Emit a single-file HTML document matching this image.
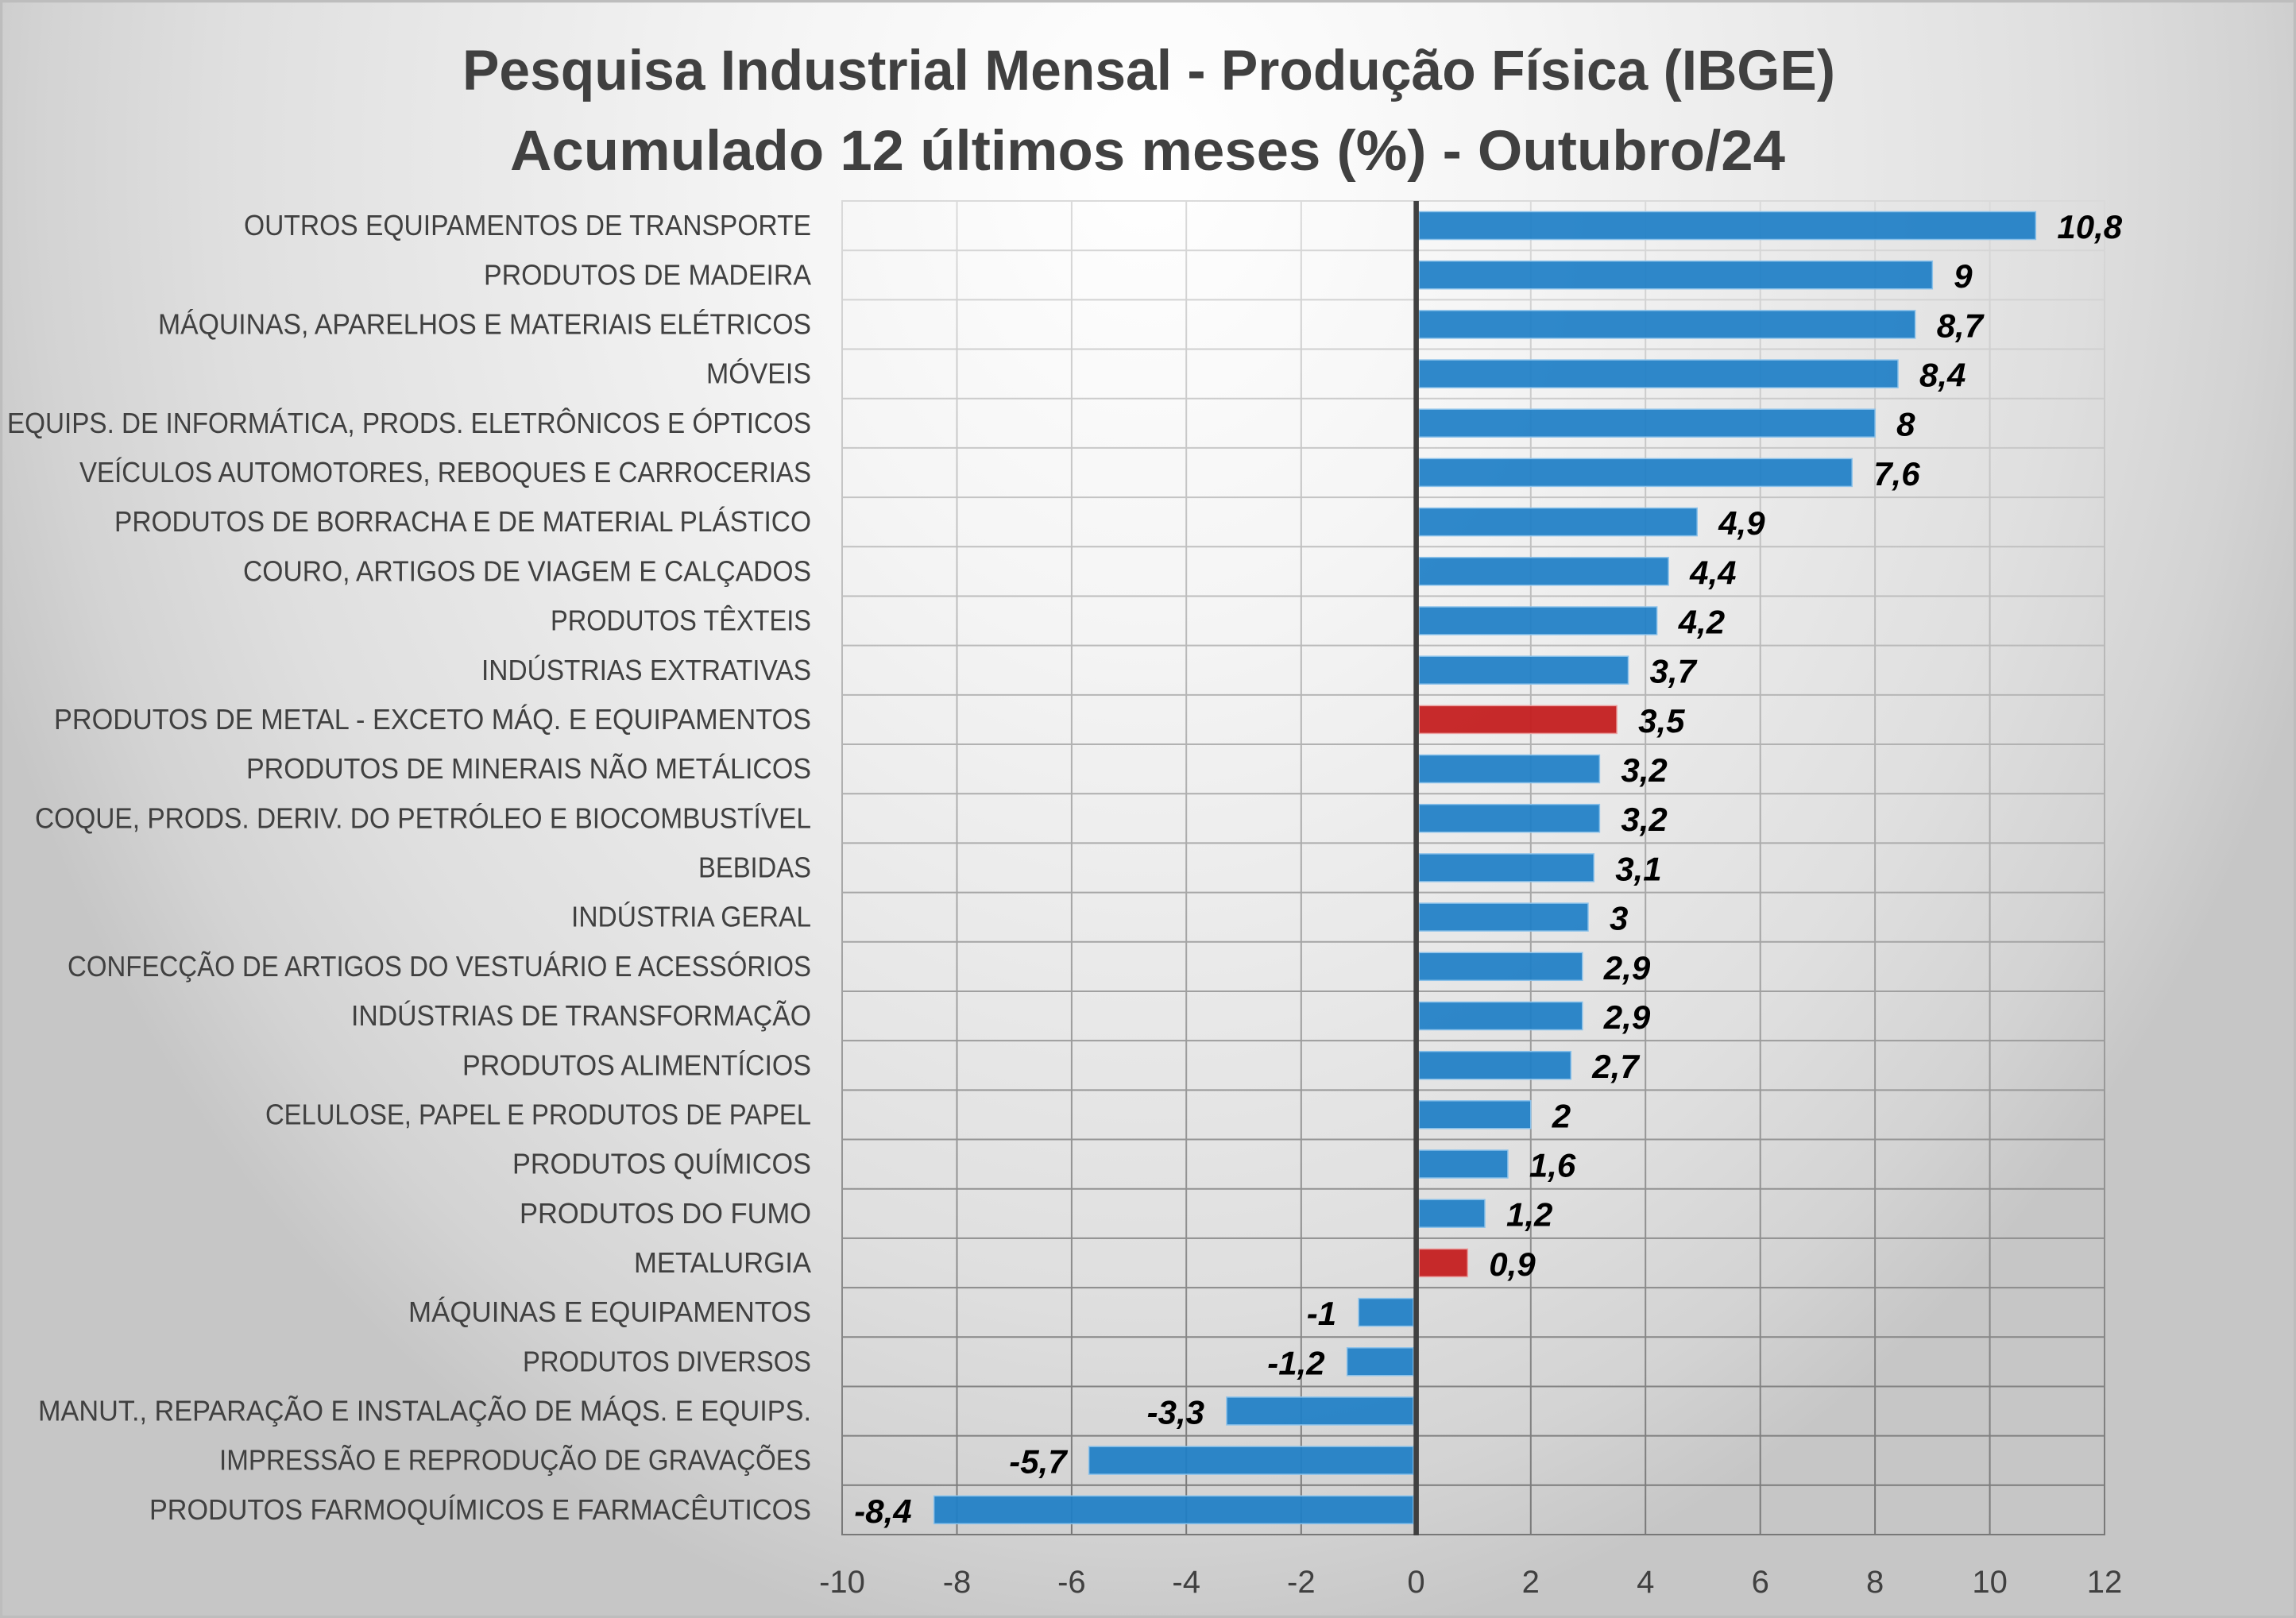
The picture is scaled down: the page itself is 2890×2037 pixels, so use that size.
<!DOCTYPE html>
<html>
<head>
<meta charset="utf-8">
<style>
html,body{margin:0;padding:0;width:2890px;height:2037px;overflow:hidden;}
body{background:radial-gradient(1550px 1900px at 1445px 200px,#ffffff 0%,#f5f5f5 30%,#e9e9e9 55%,#dfdfdf 75%,#d3d3d3 90%,#c6c6c6 100%);}
svg{display:block;position:absolute;left:0;top:0;}
.cat{font-family:"Liberation Sans",sans-serif;font-size:36px;fill:#404040;text-anchor:end;}
.val{font-family:"Liberation Sans",sans-serif;font-size:42px;font-weight:bold;font-style:italic;fill:#000;}
.neg{text-anchor:end;}
.tick{font-family:"Liberation Sans",sans-serif;font-size:40px;fill:#404040;text-anchor:middle;}
.title{font-family:"Liberation Sans",sans-serif;font-size:71px;font-weight:bold;fill:#404040;}
.b{fill:#1f7fc6;fill-opacity:0.93;stroke:#8cc2ea;stroke-width:1.5;}
.r{fill:#c41f20;fill-opacity:0.95;stroke:#eaa0a0;stroke-width:1.5;}
</style>
</head>
<body>
<svg width="2890" height="2037" viewBox="0 0 2890 2037" xmlns="http://www.w3.org/2000/svg">
<defs>
<linearGradient id="gl" gradientUnits="userSpaceOnUse" x1="0" y1="253" x2="0" y2="1932">
<stop offset="0" stop-color="#dadada"/>
<stop offset="1" stop-color="#787878"/>
</linearGradient>
</defs>

<!-- Title -->
<text class="title" x="582" y="113" textLength="1728" lengthAdjust="spacingAndGlyphs">Pesquisa Industrial Mensal - Produção Física (IBGE)</text>
<text class="title" x="642" y="214" textLength="1605" lengthAdjust="spacingAndGlyphs">Acumulado 12 últimos meses (%) - Outubro/24</text>

<!-- Grid -->
<g stroke="url(#gl)" stroke-width="2" fill="none">
<line x1="1060" y1="253" x2="1060" y2="1932"/>
<line x1="1204.5" y1="253" x2="1204.5" y2="1932"/>
<line x1="1348.9" y1="253" x2="1348.9" y2="1932"/>
<line x1="1493.2" y1="253" x2="1493.2" y2="1932"/>
<line x1="1637.8" y1="253" x2="1637.8" y2="1932"/>
<line x1="1926.8" y1="253" x2="1926.8" y2="1932"/>
<line x1="2071.2" y1="253" x2="2071.2" y2="1932"/>
<line x1="2215.7" y1="253" x2="2215.7" y2="1932"/>
<line x1="2360.1" y1="253" x2="2360.1" y2="1932"/>
<line x1="2504.6" y1="253" x2="2504.6" y2="1932"/>
<line x1="2649" y1="253" x2="2649" y2="1932"/>
<line x1="1059" y1="253" x2="2650" y2="253"/>
<line x1="1059" y1="315.19" x2="2650" y2="315.19"/>
<line x1="1059" y1="377.37" x2="2650" y2="377.37"/>
<line x1="1059" y1="439.56" x2="2650" y2="439.56"/>
<line x1="1059" y1="501.74" x2="2650" y2="501.74"/>
<line x1="1059" y1="563.93" x2="2650" y2="563.93"/>
<line x1="1059" y1="626.11" x2="2650" y2="626.11"/>
<line x1="1059" y1="688.30" x2="2650" y2="688.30"/>
<line x1="1059" y1="750.48" x2="2650" y2="750.48"/>
<line x1="1059" y1="812.67" x2="2650" y2="812.67"/>
<line x1="1059" y1="874.85" x2="2650" y2="874.85"/>
<line x1="1059" y1="937.04" x2="2650" y2="937.04"/>
<line x1="1059" y1="999.22" x2="2650" y2="999.22"/>
<line x1="1059" y1="1061.41" x2="2650" y2="1061.41"/>
<line x1="1059" y1="1123.59" x2="2650" y2="1123.59"/>
<line x1="1059" y1="1185.78" x2="2650" y2="1185.78"/>
<line x1="1059" y1="1247.96" x2="2650" y2="1247.96"/>
<line x1="1059" y1="1310.15" x2="2650" y2="1310.15"/>
<line x1="1059" y1="1372.33" x2="2650" y2="1372.33"/>
<line x1="1059" y1="1434.52" x2="2650" y2="1434.52"/>
<line x1="1059" y1="1496.70" x2="2650" y2="1496.70"/>
<line x1="1059" y1="1558.89" x2="2650" y2="1558.89"/>
<line x1="1059" y1="1621.07" x2="2650" y2="1621.07"/>
<line x1="1059" y1="1683.26" x2="2650" y2="1683.26"/>
<line x1="1059" y1="1745.44" x2="2650" y2="1745.44"/>
<line x1="1059" y1="1807.63" x2="2650" y2="1807.63"/>
<line x1="1059" y1="1869.81" x2="2650" y2="1869.81"/>
<line x1="1059" y1="1932" x2="2650" y2="1932"/>
</g>

<!-- Bars -->
<rect class="b" x="1786" y="266.5" width="776.35" height="35"/>
<rect class="b" x="1786" y="328.7" width="646.34" height="35"/>
<rect class="b" x="1786" y="390.9" width="624.67" height="35"/>
<rect class="b" x="1786" y="453.1" width="603.0" height="35"/>
<rect class="b" x="1786" y="515.2" width="574.1" height="35"/>
<rect class="b" x="1786" y="577.4" width="545.2" height="35"/>
<rect class="b" x="1786" y="639.6" width="350.2" height="35"/>
<rect class="b" x="1786" y="701.8" width="314.1" height="35"/>
<rect class="b" x="1786" y="764.0" width="299.65" height="35"/>
<rect class="b" x="1786" y="826.2" width="263.5" height="35"/>
<rect class="r" x="1786" y="888.4" width="249.1" height="35"/>
<rect class="b" x="1786" y="950.5" width="227.4" height="35"/>
<rect class="b" x="1786" y="1012.7" width="227.4" height="35"/>
<rect class="b" x="1786" y="1074.9" width="220.2" height="35"/>
<rect class="b" x="1786" y="1137.1" width="213.0" height="35"/>
<rect class="b" x="1786" y="1199.3" width="205.8" height="35"/>
<rect class="b" x="1786" y="1261.5" width="205.8" height="35"/>
<rect class="b" x="1786" y="1323.7" width="191.3" height="35"/>
<rect class="b" x="1786" y="1385.8" width="140.75" height="35"/>
<rect class="b" x="1786" y="1448.0" width="111.9" height="35"/>
<rect class="b" x="1786" y="1510.2" width="83.0" height="35"/>
<rect class="r" x="1786" y="1572.4" width="61.3" height="35"/>
<rect class="b" x="1710.1" y="1634.6" width="68.9" height="35"/>
<rect class="b" x="1695.6" y="1696.8" width="83.4" height="35"/>
<rect class="b" x="1543.95" y="1758.9" width="235.05" height="35"/>
<rect class="b" x="1370.6" y="1821.1" width="408.4" height="35"/>
<rect class="b" x="1175.6" y="1883.3" width="603.4" height="35"/>

<!-- Zero line -->
<rect x="1779.3" y="253" width="6.6" height="1680" fill="#404040"/>

<!-- Value labels -->
<text class="val" x="2589.4" y="300">10,8</text>
<text class="val" x="2459.3" y="362.2">9</text>
<text class="val" x="2437.7" y="424.4">8,7</text>
<text class="val" x="2416" y="486.6">8,4</text>
<text class="val" x="2387.1" y="548.7">8</text>
<text class="val" x="2358.2" y="610.9">7,6</text>
<text class="val" x="2163.2" y="673.1">4,9</text>
<text class="val" x="2127.1" y="735.3">4,4</text>
<text class="val" x="2112.7" y="797.5">4,2</text>
<text class="val" x="2076.5" y="859.7">3,7</text>
<text class="val" x="2062.1" y="921.9">3,5</text>
<text class="val" x="2040.4" y="984.0">3,2</text>
<text class="val" x="2040.4" y="1046.2">3,2</text>
<text class="val" x="2033.2" y="1108.4">3,1</text>
<text class="val" x="2026" y="1170.6">3</text>
<text class="val" x="2018.8" y="1232.8">2,9</text>
<text class="val" x="2018.8" y="1295.0">2,9</text>
<text class="val" x="2004.3" y="1357.2">2,7</text>
<text class="val" x="1953.8" y="1419.3">2</text>
<text class="val" x="1924.9" y="1481.5">1,6</text>
<text class="val" x="1896" y="1543.7">1,2</text>
<text class="val" x="1874.3" y="1605.9">0,9</text>
<text class="val neg" x="1682.1" y="1668.1">-1</text>
<text class="val neg" x="1667.6" y="1730.3">-1,2</text>
<text class="val neg" x="1516" y="1792.4">-3,3</text>
<text class="val neg" x="1342.6" y="1854.6">-5,7</text>
<text class="val neg" x="1147.6" y="1916.8">-8,4</text>

<!-- Category labels -->
<text class="cat" x="1021" y="296.1" textLength="714" lengthAdjust="spacingAndGlyphs">OUTROS EQUIPAMENTOS DE TRANSPORTE</text>
<text class="cat" x="1021" y="358.3" textLength="412" lengthAdjust="spacingAndGlyphs">PRODUTOS DE MADEIRA</text>
<text class="cat" x="1021" y="420.5" textLength="822" lengthAdjust="spacingAndGlyphs">MÁQUINAS, APARELHOS E MATERIAIS ELÉTRICOS</text>
<text class="cat" x="1021" y="482.7" textLength="132" lengthAdjust="spacingAndGlyphs">MÓVEIS</text>
<text class="cat" x="1021" y="544.8" textLength="1012" lengthAdjust="spacingAndGlyphs">EQUIPS. DE INFORMÁTICA, PRODS. ELETRÔNICOS E ÓPTICOS</text>
<text class="cat" x="1021" y="607.0" textLength="921" lengthAdjust="spacingAndGlyphs">VEÍCULOS AUTOMOTORES, REBOQUES E CARROCERIAS</text>
<text class="cat" x="1021" y="669.2" textLength="877" lengthAdjust="spacingAndGlyphs">PRODUTOS DE BORRACHA E DE MATERIAL PLÁSTICO</text>
<text class="cat" x="1021" y="731.4" textLength="715" lengthAdjust="spacingAndGlyphs">COURO, ARTIGOS DE VIAGEM E CALÇADOS</text>
<text class="cat" x="1021" y="793.6" textLength="328" lengthAdjust="spacingAndGlyphs">PRODUTOS TÊXTEIS</text>
<text class="cat" x="1021" y="855.8" textLength="415" lengthAdjust="spacingAndGlyphs">INDÚSTRIAS EXTRATIVAS</text>
<text class="cat" x="1021" y="918.0" textLength="953" lengthAdjust="spacingAndGlyphs">PRODUTOS DE METAL - EXCETO MÁQ. E EQUIPAMENTOS</text>
<text class="cat" x="1021" y="980.1" textLength="711" lengthAdjust="spacingAndGlyphs">PRODUTOS DE MINERAIS NÃO METÁLICOS</text>
<text class="cat" x="1021" y="1042.3" textLength="977" lengthAdjust="spacingAndGlyphs">COQUE, PRODS. DERIV. DO PETRÓLEO E BIOCOMBUSTÍVEL</text>
<text class="cat" x="1021" y="1104.5" textLength="142" lengthAdjust="spacingAndGlyphs">BEBIDAS</text>
<text class="cat" x="1021" y="1166.7" textLength="302" lengthAdjust="spacingAndGlyphs">INDÚSTRIA GERAL</text>
<text class="cat" x="1021" y="1228.9" textLength="936" lengthAdjust="spacingAndGlyphs">CONFECÇÃO DE ARTIGOS DO VESTUÁRIO E ACESSÓRIOS</text>
<text class="cat" x="1021" y="1291.1" textLength="579" lengthAdjust="spacingAndGlyphs">INDÚSTRIAS DE TRANSFORMAÇÃO</text>
<text class="cat" x="1021" y="1353.3" textLength="439" lengthAdjust="spacingAndGlyphs">PRODUTOS ALIMENTÍCIOS</text>
<text class="cat" x="1021" y="1415.4" textLength="687" lengthAdjust="spacingAndGlyphs">CELULOSE, PAPEL E PRODUTOS DE PAPEL</text>
<text class="cat" x="1021" y="1477.6" textLength="376" lengthAdjust="spacingAndGlyphs">PRODUTOS QUÍMICOS</text>
<text class="cat" x="1021" y="1539.8" textLength="367" lengthAdjust="spacingAndGlyphs">PRODUTOS DO FUMO</text>
<text class="cat" x="1021" y="1602.0" textLength="223" lengthAdjust="spacingAndGlyphs">METALURGIA</text>
<text class="cat" x="1021" y="1664.2" textLength="507" lengthAdjust="spacingAndGlyphs">MÁQUINAS E EQUIPAMENTOS</text>
<text class="cat" x="1021" y="1726.4" textLength="363" lengthAdjust="spacingAndGlyphs">PRODUTOS DIVERSOS</text>
<text class="cat" x="1021" y="1788.5" textLength="973" lengthAdjust="spacingAndGlyphs">MANUT., REPARAÇÃO E INSTALAÇÃO DE MÁQS. E EQUIPS.</text>
<text class="cat" x="1021" y="1850.7" textLength="745" lengthAdjust="spacingAndGlyphs">IMPRESSÃO E REPRODUÇÃO DE GRAVAÇÕES</text>
<text class="cat" x="1021" y="1912.9" textLength="833" lengthAdjust="spacingAndGlyphs">PRODUTOS FARMOQUÍMICOS E FARMACÊUTICOS</text>

<!-- X axis ticks -->
<text class="tick" x="1060" y="2005">-10</text>
<text class="tick" x="1204.5" y="2005">-8</text>
<text class="tick" x="1348.9" y="2005">-6</text>
<text class="tick" x="1493.2" y="2005">-4</text>
<text class="tick" x="1637.8" y="2005">-2</text>
<text class="tick" x="1782.5" y="2005">0</text>
<text class="tick" x="1926.8" y="2005">2</text>
<text class="tick" x="2071.2" y="2005">4</text>
<text class="tick" x="2215.7" y="2005">6</text>
<text class="tick" x="2360.1" y="2005">8</text>
<text class="tick" x="2504.6" y="2005">10</text>
<text class="tick" x="2649" y="2005">12</text>

<!-- Outer border -->
<rect x="1.5" y="1.5" width="2887" height="2034" fill="none" stroke="#bdbdbd" stroke-width="3.5"/>
</svg>
</body>
</html>
